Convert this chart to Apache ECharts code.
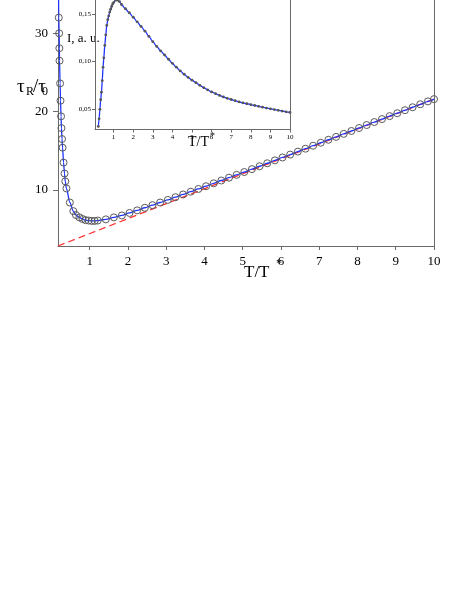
<!DOCTYPE html>
<html>
<head>
<meta charset="utf-8">
<script src="https://cdn.jsdelivr.net/npm/echarts@6/dist/echarts.min.js"></script>
<style>
  html, body { margin: 0; padding: 0; background: #fff; }
  #chart { width: 474px; height: 614px; }
</style>
</head>
<body>
<div id="chart"></div>
<script>
  // main plot: tau_R/tau_0 vs T/T*
  var mainT = [0.185, 0.19, 0.2, 0.205, 0.21, 0.225, 0.235, 0.25, 0.26, 0.275, 0.29, 0.315, 0.34, 0.36, 0.39,
    0.48, 0.57, 0.64, 0.73, 0.81, 0.89, 0.97, 1.05, 1.13, 1.21, 1.42, 1.63, 1.84, 2.04, 2.24, 2.44, 2.64, 2.84,
    3.04, 3.24, 3.44, 3.64, 3.84, 4.04, 4.24, 4.44, 4.64, 4.84, 5.04, 5.24, 5.44, 5.64, 5.84, 6.04, 6.24, 6.44,
    6.64, 6.84, 7.04, 7.24, 7.44, 7.64, 7.84, 8.04, 8.24, 8.44, 8.64, 8.84, 9.04, 9.24, 9.44, 9.64, 9.84, 10.0]
  var mainTau = [34.5, 32, 30, 28.1, 26.5, 23.6, 21.4, 19.4, 17.9, 16.5, 15.4, 13.5, 12.1, 11.1, 10.2,
    8.4, 7.3, 6.8, 6.5, 6.3, 6.15, 6.1, 6.05, 6.05, 6.1, 6.25, 6.5, 6.75, 7.07, 7.4, 7.73, 8.06, 8.4,
    8.73, 9.08, 9.43, 9.78, 10.13, 10.48, 10.85, 11.21, 11.57, 11.93, 12.29, 12.66, 13.03, 13.41, 13.78, 14.15, 14.52, 14.9,
    15.27, 15.65, 16.03, 16.41, 16.78, 17.16, 17.53, 17.91, 18.29, 18.67, 19.05, 19.43, 19.8, 20.18, 20.56, 20.94, 21.31, 21.6]
  // asymptote (red dashed)
  var asymT = [0.17, 10]
  var asymTau = [2.85, 21.6]
  var mainXTicks = [1, 2, 3, 4, 5, 6, 7, 8, 9, 10]
  var mainYTicks = [10, 20, 30]

  // inset: intensity vs T/T*
  var insetT = [0.22, 0.26, 0.3, 0.34, 0.38, 0.42, 0.46, 0.5, 0.55, 0.6, 0.65, 0.7, 0.75, 0.8, 0.85, 0.9, 0.95, 1.0,
    1.1, 1.2, 1.3, 1.4, 1.6, 1.8, 2.0, 2.2, 2.4, 2.6, 2.8, 3.0, 3.2, 3.4, 3.6, 3.8, 4.0, 4.2, 4.4, 4.6, 4.8, 5.0,
    5.2, 5.4, 5.6, 5.8, 6.0, 6.2, 6.4, 6.6, 6.8, 7.0, 7.2, 7.4, 7.6, 7.8, 8.0, 8.2, 8.4, 8.6, 8.8, 9.0, 9.2, 9.4,
    9.6, 9.8, 10.0]
  var insetI = [0.032, 0.040, 0.050, 0.060, 0.068, 0.080, 0.094, 0.104, 0.117, 0.128, 0.138, 0.144, 0.148, 0.152, 0.155, 0.158, 0.1605, 0.162,
    0.1645, 0.1645, 0.163, 0.160, 0.1555, 0.1513, 0.1466, 0.1418, 0.137, 0.132, 0.1265, 0.121, 0.116, 0.1113, 0.107, 0.1025, 0.0982, 0.0942, 0.0903, 0.0868, 0.0835, 0.0806,
    0.0779, 0.0752, 0.0727, 0.0704, 0.0682, 0.0664, 0.0646, 0.063, 0.0615, 0.0603, 0.059, 0.0578, 0.0568, 0.0558, 0.0549, 0.054, 0.0531, 0.0522, 0.0513, 0.0505, 0.0497, 0.0489,
    0.0481, 0.0474, 0.0467]
  var insetXTicks = [1, 2, 3, 4, 5, 6, 7, 8, 9, 10]
  var insetYTicks = [0.05, 0.10, 0.15]

  function zip (xs, ys) {
    var res = []
    for (var i = 0; i < xs.length; i++) {
      res.push([xs[i], ys[i]])
    }
    return res
  }

  var serif = 'Liberation Serif'
  var axisColor = '#6a6a6a'

  var chart = echarts.init(document.getElementById('chart'), null, { renderer: 'canvas' })
  chart.setOption({
    backgroundColor: '#fff',
    animation: false,
    textStyle: { fontFamily: serif, color: '#000' },
    grid: [
      { left: 58, right: 40, top: 0, height: 246 },
      { left: 95, top: 0, width: 195, height: 129.5 }
    ],
    xAxis: [{
      gridIndex: 0,
      type: 'value',
      min: 0.17,
      max: 10,
      splitLine: { show: false },
      axisLine: { lineStyle: { color: axisColor, width: 1 } },
      axisTick: { customValues: mainXTicks, length: 4, lineStyle: { color: axisColor } },
      axisLabel: { customValues: mainXTicks, fontSize: 13, fontFamily: serif, color: '#000', margin: 9 }
    }, {
      gridIndex: 1,
      type: 'value',
      min: 0.05,
      max: 10,
      splitLine: { show: false },
      axisLine: { lineStyle: { color: axisColor, width: 1 } },
      axisTick: { customValues: insetXTicks, length: 3, lineStyle: { color: axisColor } },
      axisLabel: { customValues: insetXTicks, fontSize: 7, fontFamily: serif, color: '#000', margin: 4 }
    }],
    yAxis: [{
      gridIndex: 0,
      type: 'value',
      min: 2.85,
      max: 34.25,
      splitLine: { show: false },
      axisLine: { show: true, lineStyle: { color: axisColor, width: 1 } },
      axisTick: { customValues: mainYTicks, length: 5, lineStyle: { color: axisColor } },
      axisLabel: { customValues: mainYTicks, fontSize: 13, fontFamily: serif, color: '#000', margin: 10 }
    }, {
      gridIndex: 0,
      type: 'value',
      position: 'right',
      min: 2.85,
      max: 34.25,
      splitLine: { show: false },
      axisLine: { show: true, lineStyle: { color: axisColor, width: 1 } },
      axisTick: { show: false },
      axisLabel: { show: false }
    }, {
      gridIndex: 1,
      type: 'value',
      min: 0.0288,
      max: 0.1647,
      splitLine: { show: false },
      axisLine: { show: true, lineStyle: { color: axisColor, width: 1 } },
      axisTick: { customValues: insetYTicks, length: 3, lineStyle: { color: axisColor } },
      axisLabel: {
        customValues: insetYTicks,
        fontSize: 7,
        fontFamily: serif,
        color: '#000',
        margin: 4,
        formatter: function (v) { return v.toFixed(2).replace('.', ',') }
      }
    }, {
      gridIndex: 1,
      type: 'value',
      position: 'right',
      min: 0.0288,
      max: 0.1647,
      splitLine: { show: false },
      axisLine: { show: true, lineStyle: { color: axisColor, width: 1 } },
      axisTick: { show: false },
      axisLabel: { show: false }
    }],
    series: [{
      name: 'asymptote',
      type: 'line',
      xAxisIndex: 0,
      yAxisIndex: 0,
      data: zip(asymT, asymTau),
      showSymbol: false,
      lineStyle: { color: '#ff3333', width: 1.3, type: [7, 4] },
      z: 2
    }, {
      name: 'tau',
      type: 'line',
      xAxisIndex: 0,
      yAxisIndex: 0,
      data: zip(mainT, mainTau),
      smooth: 0.3,
      smoothMonotone: 'x',
      symbol: 'circle',
      symbolSize: 7,
      showAllSymbol: true,
      lineStyle: { color: '#1f33ff', width: 1.3 },
      itemStyle: { color: 'rgba(0,0,0,0)', borderColor: '#5a5a5a', borderWidth: 1 },
      z: 3
    }, {
      name: 'I',
      type: 'line',
      xAxisIndex: 1,
      yAxisIndex: 2,
      data: zip(insetT, insetI),
      smooth: 0.3,
      smoothMonotone: 'x',
      symbol: 'circle',
      symbolSize: 2.8,
      showAllSymbol: true,
      lineStyle: { color: '#1f33ff', width: 1.3 },
      itemStyle: { color: '#555', borderWidth: 0 },
      z: 3
    }],
    graphic: [
      // main y label  tau_R / tau_0
      { type: 'text', left: 17, top: 78, style: { text: 'τ', font: '19px "Liberation Serif"', fill: '#000' } },
      { type: 'text', left: 26, top: 86, style: { text: 'R', font: '12px "Liberation Serif"', fill: '#000' } },
      { type: 'text', left: 33, top: 78, style: { text: '/τ', font: '19px "Liberation Serif"', fill: '#000' } },
      { type: 'text', left: 42, top: 86, style: { text: '0', font: '12px "Liberation Serif"', fill: '#000' } },
      // main x label
      { type: 'text', left: 244, top: 264, style: { text: 'T/T', font: '17px "Liberation Serif"', fill: '#000' } },
      { type: 'text', left: 276, top: 258, style: { text: '*', font: '12px "Liberation Serif"', fill: '#000' } },
      // inset labels
      { type: 'text', left: 67, top: 32, style: { text: 'I, a. u.', font: '13px "Liberation Serif"', fill: '#000' } },
      { type: 'text', left: 188, top: 135, style: { text: 'T/T', font: '14px "Liberation Serif"', fill: '#000' } },
      { type: 'text', left: 210, top: 131, style: { text: '*', font: '10px "Liberation Serif"', fill: '#000' } }
    ]
  })
</script>
</body>
</html>
